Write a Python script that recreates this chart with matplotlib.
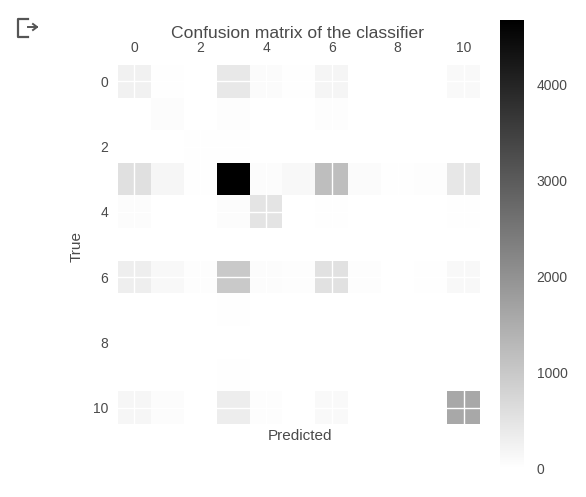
import numpy as np
import matplotlib
matplotlib.use("Agg")
import matplotlib.pyplot as plt
from matplotlib.lines import Line2D

plt.rcParams['font.family'] = ['Liberation Sans', 'DejaVu Sans']

row_0 = [270, 30, 10, 420, 80, 25, 200, 15, 5, 10, 120]
row_1 = [15, 60, 8, 40, 12, 8, 45, 6, 3, 5, 12]
row_2 = [3, 3, 25, 20, 5, 5, 12, 5, 2, 2, 5]
row_3 = [580, 170, 25, 4670, 60, 130, 1200, 80, 25, 50, 450]
row_4 = [60, 15, 5, 70, 500, 12, 35, 12, 3, 5, 20]
row_5 = [8, 5, 2, 12, 5, 5, 8, 5, 2, 2, 5]
row_6 = [320, 140, 45, 1000, 70, 50, 550, 40, 15, 30, 130]
row_7 = [15, 8, 3, 30, 5, 5, 15, 12, 3, 3, 12]
row_8 = [3, 3, 1, 8, 2, 2, 5, 5, 15, 3, 3]
row_9 = [12, 5, 2, 22, 5, 3, 12, 5, 3, 8, 6]
row_10 = [170, 70, 8, 330, 50, 8, 120, 15, 8, 15, 1600]
matrix = [row_0, row_1, row_2, row_3, row_4, row_5, row_6, row_7, row_8, row_9, row_10]

ticks = [0, 2, 4, 6, 8, 10]
cbar_ticks = [0, 1000, 2000, 3000, 4000]

W, H = 586, 497
text_color = "#4a4a4a"

fig = plt.figure(figsize=(W / 100, H / 100), dpi=100)


def box(left, top, right, bottom):
    return [left / W, 1 - bottom / H, (right - left) / W, (bottom - top) / H]


ax = fig.add_axes(box(118, 65, 480, 424))
im = ax.imshow(np.array(matrix), cmap="binary", vmin=0, vmax=4670, aspect="auto")
ax.set_xticks(ticks)
ax.set_yticks(ticks)
ax.xaxis.tick_top()
ax.tick_params(length=0, labelsize=10, colors=text_color, pad=7)
ax.grid(True, color="white", linewidth=1)
for s in ax.spines.values():
    s.set_visible(False)

fig.text(298 / W, 1 - 33 / H, "Confusion matrix of the classifier",
         ha="center", va="center", fontsize=12.6, color=text_color)
fig.text(300 / W, 1 - 436 / H, "Predicted",
         ha="center", va="center", fontsize=11, color=text_color)
fig.text(77 / W, 1 - 247 / H, "True", rotation=90,
         ha="center", va="center", fontsize=11, color=text_color)

cax = fig.add_axes(box(500, 20, 524, 469))
cbar = fig.colorbar(im, cax=cax)
cbar.set_ticks(cbar_ticks)
cbar.ax.tick_params(length=0, labelsize=10, colors=text_color, pad=9)
cbar.outline.set_visible(False)

# output icon of the notebook cell
def px(xs, ys):
    return [x / W for x in xs], [1 - y / H for y in ys]


icon = "#555555"
fig.add_artist(Line2D(*px([28, 18, 18, 28], [19, 19, 37, 37]), color=icon, lw=1.6))
fig.add_artist(Line2D(*px([28, 37], [27, 27]), color=icon, lw=1.4))
fig.add_artist(Line2D(*px([33, 37, 33], [24, 27, 30]), color=icon, lw=1.4))

fig.savefig("out.png", dpi=100)
